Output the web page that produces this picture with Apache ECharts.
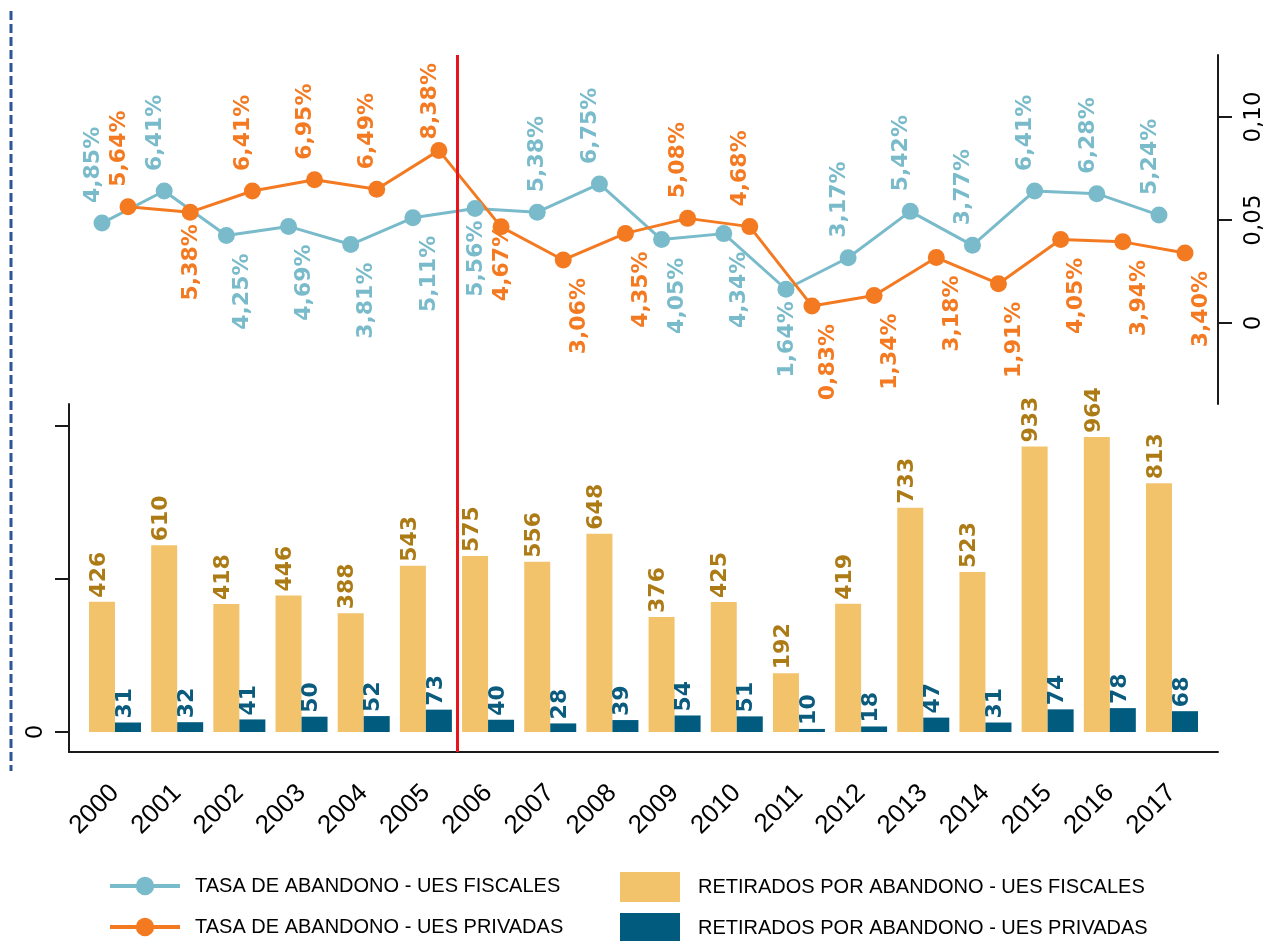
<!DOCTYPE html>
<html><head><meta charset="utf-8">
<script src="https://cdn.jsdelivr.net/npm/echarts@6/dist/echarts.min.js"></script>
<style>html,body{margin:0;padding:0;background:#fff}#c{width:1269px;height:941px}</style>
</head><body><div id="c"></div>
<script>
// ---- data ----
const years = ['2000','2001','2002','2003','2004','2005','2006','2007','2008','2009','2010','2011','2012','2013','2014','2015','2016','2017'];
const tasaFiscales = [4.85, 6.41, 4.25, 4.69, 3.81, 5.11, 5.56, 5.38, 6.75, 4.05, 4.34, 1.64, 3.17, 5.42, 3.77, 6.41, 6.28, 5.24];
const tasaPrivadas = [5.64, 5.38, 6.41, 6.95, 6.49, 8.38, 4.67, 3.06, 4.35, 5.08, 4.68, 0.83, 1.34, 3.18, 1.91, 4.05, 3.94, 3.40];
const retiradosFiscales = [426, 610, 418, 446, 388, 543, 575, 556, 648, 376, 425, 192, 419, 733, 523, 933, 964, 813];
const retiradosPrivadas = [31, 32, 41, 50, 52, 73, 40, 28, 39, 54, 51, 10, 18, 47, 31, 74, 78, 68];
const rateTicks = [0, 0.05, 0.10];
const countTicks = [0, 500, 1000];
const countTickLabels = [0];
const breakAt = 5.5; // between 2005 and 2006

const NAME_TF = 'TASA DE ABANDONO - UES FISCALES';
const NAME_TP = 'TASA DE ABANDONO - UES PRIVADAS';
const NAME_RF = 'RETIRADOS POR ABANDONO - UES FISCALES';
const NAME_RP = 'RETIRADOS POR ABANDONO - UES PRIVADAS';

// ---- label placement (style) ----
const tealLabelPlace = ['t','t','b','b','b','b','c','tc','t','b','b','c','t','t','t','t','t','t'];
const orangeLabelPlace = ['t','c','t','t','t','t2','c0','b','b','t','t','b','b','b','b','b','b','b'];
const PLACE = {
  t:  {align:'left',  dx:-9, dy:-20},
  t2: {align:'left',  dx:-9, dy:-11},
  tc: {align:'left',  dx:0,  dy:-20},
  b:  {align:'right', dx:16, dy:18},
  c:  {align:'right', dx:1,  dy:12},
  c0: {align:'right', dx:1,  dy:-2}
};

// ---- layout ----
const W = 1269, GRID_LEFT = 69, GRID_RIGHT = 51;
const X_MIN = -0.74, X_MAX = 17.74, BAR_W = 26;
const pxPerCat = (W - GRID_LEFT - GRID_RIGHT) / (X_MAX - X_MIN);
const halfBar = (BAR_W / 2) / pxPerCat;

const C_TEAL = '#79bbca', C_ORANGE = '#f47a22', C_YELLOW = '#f2c36b', C_DARK = '#005b7f';
const C_YLAB = '#ad7b15', C_DLAB = '#0a5b7e', C_AXIS = '#1a1a1a', C_RED = '#e8141c';

const fmtPct = v => (v * 100).toFixed(2).replace('.', ',') + '%';
const fmtTick = v => v === 0 ? '0' : v.toFixed(2).replace('.', ',');

function lineData(vals, shift, places) {
  return vals.map((v, i) => {
    const p = PLACE[places[i]];
    return { value: [i + shift, v / 100], label: { align: p.align, offset: [-p.dy, p.dx] } };
  });
}

const pointLabel = color => ({
  show: true, position: 'inside', rotate: 90, verticalAlign: 'middle',
  formatter: p => fmtPct(p.value[1]), color: color,
  fontFamily: 'DejaVu Sans', fontWeight: 'bold', fontSize: 22
});
const barLabel = color => ({
  show: true, position: 'top', distance: 4, rotate: 90, align: 'left', verticalAlign: 'middle',
  offset: [0, -3], formatter: p => String(p.value[1]), color: color,
  fontFamily: 'DejaVu Sans', fontWeight: 'bold', fontSize: 22
});
const legendText = pad => ({fontSize: 20, fontFamily: 'Liberation Sans', color: '#000', padding: [0, 0, 0, pad]});
const redLine = {silent: true, symbol: 'none', label: {show: false},
  lineStyle: {color: C_RED, width: 3, type: 'solid'}, data: [{xAxis: breakAt}]};

const chart = echarts.init(document.getElementById('c'), null, {renderer: 'canvas'});
chart.setOption({
  animation: false,
  backgroundColor: '#fff',
  graphic: [{
    type: 'line', shape: {x1: 11, y1: 11, x2: 11, y2: 771},
    style: {stroke: '#2d5597', lineWidth: 3, lineDash: [9, 4]}
  }],
  grid: [
    {left: GRID_LEFT, right: GRID_RIGHT, top: 55, height: 349},
    {left: GRID_LEFT, right: GRID_RIGHT, top: 404, height: 348}
  ],
  xAxis: [
    {gridIndex: 0, type: 'value', min: X_MIN, max: X_MAX, show: false},
    {gridIndex: 1, type: 'value', min: X_MIN, max: X_MAX,
     splitLine: {show: false},
     axisLine: {show: true, onZero: false, lineStyle: {color: C_AXIS, width: 2}},
     axisTick: {show: false},
     axisLabel: {customValues: years.map((_, i) => i), formatter: v => years[Math.round(v)],
       rotate: 45, fontSize: 26, fontFamily: 'Liberation Sans', color: '#000', margin: 37}}
  ],
  yAxis: [
    {gridIndex: 0, type: 'value', position: 'right', min: -0.0393, max: 0.1301,
     splitLine: {show: false},
     axisLine: {show: true, onZero: false, lineStyle: {color: C_AXIS, width: 2}},
     axisTick: {show: true, length: 14, customValues: rateTicks, lineStyle: {color: C_AXIS, width: 2}},
     axisLabel: {customValues: rateTicks, formatter: fmtTick, rotate: 90, fontSize: 23,
       fontFamily: 'DejaVu Sans', color: '#000', margin: 25}},
    {gridIndex: 1, type: 'value', position: 'left', min: -65.4, max: 1071.9,
     splitLine: {show: false},
     axisLine: {show: true, onZero: false, lineStyle: {color: C_AXIS, width: 2}},
     axisTick: {show: true, length: 14, customValues: countTicks, lineStyle: {color: C_AXIS, width: 2}},
     axisLabel: {customValues: countTickLabels, rotate: 90, fontSize: 23,
       fontFamily: 'DejaVu Sans', color: '#000', margin: 21}}
  ],
  legend: [
    {data: [NAME_TF], left: 108, top: 876, padding: 0, itemWidth: 70, itemHeight: 23, lineStyle: {width: 4}, textStyle: legendText(10)},
    {data: [NAME_TP], left: 108, top: 917, padding: 0, itemWidth: 70, itemHeight: 23, lineStyle: {width: 4}, textStyle: legendText(10)},
    {data: [NAME_RF], left: 620, top: 872, padding: 0, itemWidth: 60, itemHeight: 30, icon: 'rect', textStyle: legendText(13)},
    {data: [NAME_RP], left: 620, top: 913, padding: 0, itemWidth: 60, itemHeight: 30, icon: 'rect', textStyle: legendText(13)}
  ],
  series: [
    {name: NAME_RF, type: 'bar', xAxisIndex: 1, yAxisIndex: 1,
     barWidth: BAR_W, barGap: '0%', itemStyle: {color: C_YELLOW},
     data: retiradosFiscales.map((v, i) => [i, v]), label: barLabel(C_YLAB)},
    {name: NAME_RP, type: 'bar', xAxisIndex: 1, yAxisIndex: 1,
     barWidth: BAR_W, barGap: '0%', itemStyle: {color: C_DARK},
     data: retiradosPrivadas.map((v, i) => [i, v]), label: barLabel(C_DLAB)},
    {name: 'corte', type: 'line', xAxisIndex: 1, yAxisIndex: 1, data: [], markLine: redLine},
    {name: NAME_TF, type: 'line', xAxisIndex: 0, yAxisIndex: 0,
     symbol: 'circle', symbolSize: 17, itemStyle: {color: C_TEAL}, lineStyle: {color: C_TEAL, width: 3},
     data: lineData(tasaFiscales, -halfBar, tealLabelPlace), label: pointLabel(C_TEAL),
     markLine: redLine},
    {name: NAME_TP, type: 'line', xAxisIndex: 0, yAxisIndex: 0,
     symbol: 'circle', symbolSize: 17, itemStyle: {color: C_ORANGE}, lineStyle: {color: C_ORANGE, width: 3},
     data: lineData(tasaPrivadas, halfBar, orangeLabelPlace), label: pointLabel(C_ORANGE)}
  ]
});
</script></body></html>
